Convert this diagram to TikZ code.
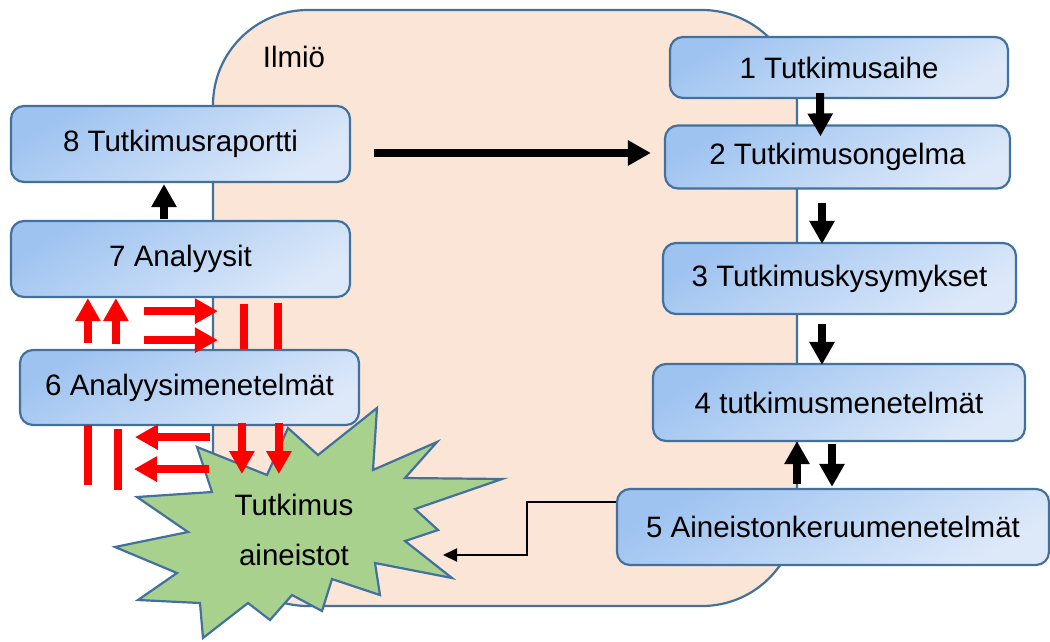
\documentclass[tikz,border=0pt]{standalone}
\usepackage{fontspec}
\setmainfont{Liberation Sans}
\usetikzlibrary{arrows.meta,calc}
\definecolor{bord}{HTML}{41719C}
\definecolor{peach}{HTML}{FBE5D6}
\definecolor{boxA}{HTML}{9EC3F0}
\definecolor{boxB}{HTML}{DDE9F9}
\definecolor{stargreen}{HTML}{A9D18E}
\definecolor{redc}{HTML}{FF0000}
\begin{document}
\begin{tikzpicture}[x=1pt,y=-1pt,
  font=\fontsize{29.5}{35}\selectfont,
  box/.style={draw=bord, line width=2.2pt, rounded corners=13pt,
    top color=boxA, bottom color=boxB, shading angle=30, inner sep=0pt},
  blk/.style={draw=black, line width=8pt, -{Triangle[width=24pt,length=23pt]}},
  redarr/.style={draw=redc, line width=8pt, -{Triangle[width=24pt,length=23pt]}},
  redline/.style={draw=redc, line width=8pt},
  thinarr/.style={draw=black, line width=2pt, -{Triangle[width=13pt,length=14pt]}}]
\useasboundingbox (0,0) rectangle (1050,641);
% phenomenon area
\node[draw=bord, line width=2.2pt, fill=peach, rounded corners=95pt,
  minimum width=584pt, minimum height=596pt, inner sep=0pt] (ilmio) at (505,308) {};
\node (ilmiotext) at (294,57) {Ilmiö};
% boxes
\node[box, minimum width=338pt, minimum height=61pt] (b1) at (839,67.5) {1 Tutkimusaihe};
\node[box, minimum width=345pt, minimum height=63pt] (b2) at (837.5,157) {2 Tutkimusongelma};
\node[box, minimum width=353pt, minimum height=71pt] (b3) at (839.5,278.5) {3 Tutkimuskysymykset};
\node[box, minimum width=372pt, minimum height=77pt] (b4) at (839,402.5) {4 tutkimusmenetelmät};
\node[box, minimum width=432pt, minimum height=76pt] (b5) at (833,527) {5 Aineistonkeruumenetelmät};
\node[box, minimum width=339pt, minimum height=76pt] (b8) at (180.5,144) {8 Tutkimusraportti};
\node[box, minimum width=339pt, minimum height=76pt] (b7) at (180.5,259) {7 Analyysit};
\node[box, minimum width=339pt, minimum height=75pt] (b6) at (189.5,387.5) {6 Analyysimenetelmät};
% star
\draw[draw=bord, line width=2.2pt, fill=stargreen, line join=miter]
  (377,408) -- (373,470) -- (437,442) -- (405,478) -- (502,479) -- (415,509)
  -- (438,530) -- (405,541) -- (452,578) -- (375,563) -- (380,595) -- (332,579)
  -- (322,611) -- (292,595) -- (270,620) -- (248,603) -- (203,638) -- (200,603)
  -- (138,600) -- (177,573) -- (115,547) -- (188,532) -- (137,497) -- (212,492)
  -- (197,447) -- (267,475) -- (288,428) -- (318,455) -- cycle;
\node[align=center, font=\fontsize{29.5}{50}\selectfont] (star) at (294,530) {Tutkimus\\aineistot};
\coordinate (startip) at (443,555);
% black arrows
\draw[blk] ($(b1.south)+(-19,-6)$) -- ($(b2.north)+(-17,12)$);
\draw[blk] ($(b2.south)+(-15.5,13)$) -- ($(b3.north)+(-17.5,2)$);
\draw[blk] ($(b3.south)+(-17.5,9)$) -- ($(b4.north)+(-17,2)$);
\draw[blk] ($(b5.north)+(-36,-4)$) -- ($(b4.south)+(-42,-1)$);
\draw[blk] ($(b4.south)+(-7,2)$) -- ($(b5.north)+(-1,-1)$);
\draw[blk] ($(b7.north)+(-16.5,-1)$) -- ($(b8.south)+(-16.5,1)$);
\draw[blk] ($(b8.east)+(23,9)$) -- ($(b8.east -| b2.west)+(-13,9)$);
\draw[thinarr] ($(b5.west)+(0,-25)$) -- ++(-89,0) |- (startip);
% red arrows between 6 and 7
\draw[redarr] ($(b7.south west)+(78,45)$) -- ($(b7.south west)+(78,0)$);
\draw[redarr] ($(b7.south west)+(106,46)$) -- ($(b7.south west)+(106,0)$);
\draw[redarr] ($(b7.south west)+(134,13)$) -- ($(b7.south west)+(208,13)$);
\draw[redarr] ($(b7.south west)+(134,42)$) -- ($(b7.south west)+(208,42)$);
\draw[redline] ($(b6.north west)+(225,-45)$) -- ($(b6.north west)+(225,0)$);
\draw[redline] ($(b6.north west)+(259,-46)$) -- ($(b6.north west)+(259,0)$);
% red arrows between 6 and data
\draw[redline] ($(b6.south west)+(69,-1)$) -- ($(b6.south west)+(69,59)$);
\draw[redline] ($(b6.south west)+(99,3)$) -- ($(b6.south west)+(99,64)$);
\draw[redarr] ($(b6.south west)+(191,11)$) -- ($(b6.south west)+(116,11)$);
\draw[redarr] ($(b6.south west)+(190,43)$) -- ($(b6.south west)+(115,43)$);
\draw[redarr] ($(b6.south west)+(223,-3)$) -- ($(b6.south west)+(223,48)$);
\draw[redarr] ($(b6.south west)+(260,-3)$) -- ($(b6.south west)+(260,48)$);
\end{tikzpicture}
\end{document}
